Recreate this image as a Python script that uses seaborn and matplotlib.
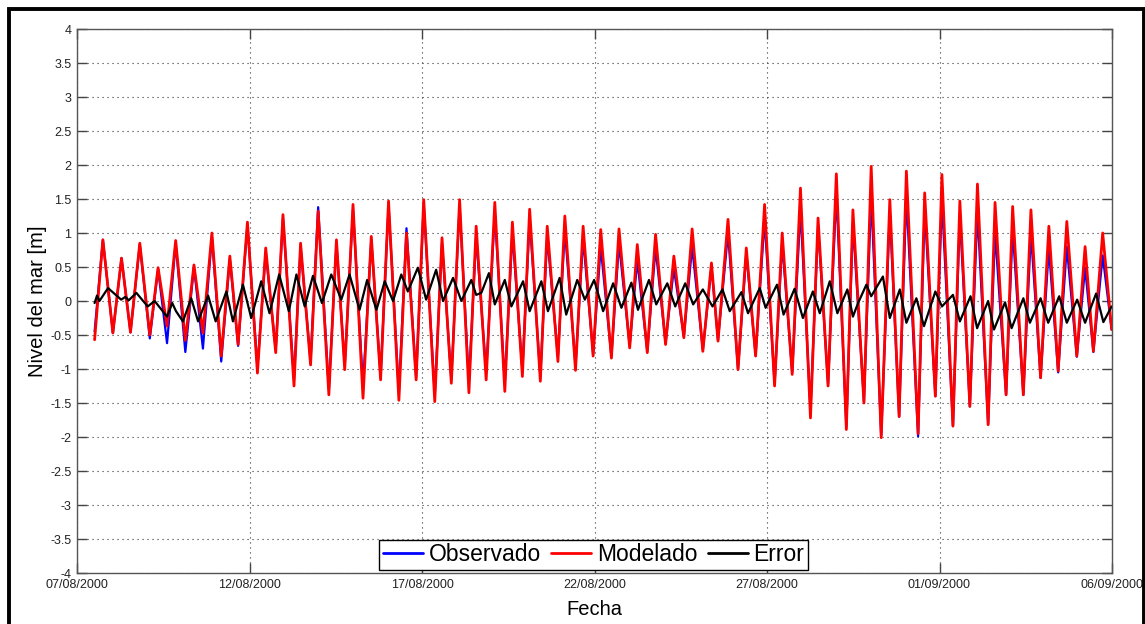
import matplotlib
matplotlib.use("Agg")
import matplotlib.pyplot as plt
import seaborn as sns
import pandas as pd
from matplotlib.lines import Line2D
from matplotlib.patches import Rectangle

# ---------------- data ----------------
# x positions in days after 07/08/2000 00:00
tick_days = [0, 5, 10, 15, 20, 25, 30]
tick_labels = ["07/08/2000", "12/08/2000", "17/08/2000", "22/08/2000",
               "27/08/2000", "01/09/2000", "06/09/2000"]
y_ticks = [-4, -3.5, -3, -2.5, -2, -1.5, -1, -0.5, 0, 0.5, 1, 1.5, 2, 2.5, 3, 3.5, 4]
y_tick_labels = ["-4", "-3.5", "-3", "-2.5", "-2", "-1.5", "-1", "-0.5", "0",
                 "0.5", "1", "1.5", "2", "2.5", "3", "3.5", "4"]
series_names = ["Observado", "Modelado", "Error"]

# high / low water times (days) for the tide curves
tide_days = [0.51, 0.75, 1.04, 1.29, 1.55, 1.82, 2.11, 2.35, 2.61, 2.86, 3.14, 3.39, 3.65, 3.91,
             4.18, 4.43, 4.67, 4.94, 5.23, 5.47, 5.76, 5.97, 6.29, 6.48, 6.77, 6.99, 7.30, 7.52,
             7.76, 8.00, 8.29, 8.53, 8.80, 9.03, 9.33, 9.55, 9.83, 10.05, 10.37, 10.58, 10.85, 11.09,
             11.36, 11.57, 11.86, 12.11, 12.40, 12.62, 12.91, 13.12, 13.43, 13.63, 13.94, 14.14, 14.45, 14.67,
             14.96, 15.18, 15.49, 15.71, 16.02, 16.24, 16.53, 16.77, 17.06, 17.30, 17.59, 17.83, 18.14, 18.39,
             18.58, 18.87, 19.16, 19.40, 19.67, 19.93, 20.22, 20.44, 20.73, 20.97, 21.26, 21.48, 21.77, 22.01,
             22.30, 22.49, 22.81, 23.02, 23.31, 23.56, 23.83, 24.04, 24.38, 24.57, 24.88, 25.07, 25.39, 25.59,
             25.88, 26.10, 26.41, 26.61, 26.93, 27.12, 27.43, 27.65, 27.93, 28.17, 28.44, 28.69, 28.98, 29.22,
             29.46, 29.73, 29.99]

modelado = [-0.57, 0.90, -0.47, 0.63, -0.46, 0.85, -0.50, 0.49, -0.37, 0.89, -0.58, 0.53, -0.47, 1.00,
            -0.81, 0.66, -0.64, 1.16, -1.06, 0.78, -0.76, 1.27, -1.25, 0.85, -0.94, 1.32, -1.38, 0.90,
            -1.01, 1.42, -1.43, 0.95, -1.16, 1.47, -1.46, 1.00, -1.16, 1.49, -1.48, 0.93, -1.21, 1.49,
            -1.35, 1.10, -1.16, 1.45, -1.33, 1.16, -1.11, 1.35, -1.18, 1.10, -0.89, 1.25, -1.02, 1.10,
            -0.81, 1.05, -0.84, 1.06, -0.69, 0.83, -0.76, 0.98, -0.64, 0.66, -0.54, 1.06, -0.74, 0.56,
            -0.59, 1.20, -1.01, 0.78, -0.81, 1.42, -1.25, 1.00, -1.08, 1.66, -1.72, 1.22, -1.25, 1.87,
            -1.89, 1.34, -1.50, 1.98, -2.01, 1.49, -1.70, 1.91, -1.95, 1.59, -1.40, 1.86, -1.84, 1.47,
            -1.55, 1.72, -1.82, 1.45, -1.38, 1.39, -1.38, 1.34, -1.13, 1.10, -1.03, 1.17, -0.81, 0.80,
            -0.74, 1.00, -0.42]

observado = [-0.45, 0.90, -0.47, 0.63, -0.46, 0.83, -0.55, 0.47, -0.62, 0.85, -0.75, 0.50, -0.70, 0.95,
             -0.89, 0.62, -0.66, 1.12, -0.98, 0.72, -0.72, 1.22, -1.15, 0.80, -0.88, 1.38, -1.30, 0.85,
             -0.95, 1.35, -1.25, 0.90, -1.10, 1.40, -1.35, 1.07, -1.12, 1.42, -1.38, 0.85, -1.15, 1.40,
             -1.20, 0.95, -1.05, 1.30, -1.20, 1.00, -1.02, 1.20, -1.10, 0.95, -0.82, 1.05, -0.95, 0.92,
             -0.78, 0.80, -0.82, 0.85, -0.66, 0.60, -0.74, 0.78, -0.62, 0.48, -0.52, 0.80, -0.72, 0.50,
             -0.57, 1.00, -1.00, 0.70, -0.80, 1.20, -1.22, 0.85, -1.05, 1.35, -1.60, 1.10, -1.22, 1.60,
             -1.85, 1.15, -1.48, 1.55, -1.98, 1.30, -1.70, 1.55, -1.99, 1.35, -1.40, 1.50, -1.84, 1.25,
             -1.55, 1.32, -1.80, 1.02, -1.38, 1.07, -1.38, 1.00, -1.13, 0.78, -1.05, 0.80, -0.82, 0.49,
             -0.75, 0.67, -0.42]

error_days = [0.51, 0.58, 0.65, 0.90, 1.28, 1.40, 1.50, 1.72, 2.05, 2.25, 2.61, 2.76, 2.87, 3.07,
              3.31, 3.51, 3.80, 4.02, 4.33, 4.52, 4.81, 5.05, 5.34, 5.58, 5.86, 6.14, 6.36, 6.60,
              6.84, 7.10, 7.37, 7.66, 7.90, 8.19, 8.41, 8.68, 8.92, 9.16, 9.40, 9.59, 9.88, 10.12,
              10.41, 10.61, 10.90, 11.14, 11.43, 11.57, 11.72, 11.94, 12.11, 12.40, 12.59, 12.93, 13.12,
              13.46, 13.65, 13.99, 14.18, 14.50, 14.72, 14.99, 15.25, 15.54, 15.78, 16.07, 16.26, 16.58,
              16.79, 17.11, 17.34, 17.63, 17.86, 18.14, 18.42, 18.71, 18.92, 19.26, 19.45, 19.79, 19.96,
              20.29, 20.48, 20.80, 21.04, 21.33, 21.53, 21.82, 22.04, 22.33, 22.49, 22.64, 22.88, 23.02,
              23.36, 23.56, 23.85, 24.04, 24.33, 24.55, 24.88, 25.07, 25.39, 25.59, 25.90, 26.09, 26.41,
              26.58, 26.90, 27.09, 27.43, 27.62, 27.93, 28.15, 28.47, 28.69, 28.99, 29.22, 29.54, 29.75,
              29.99]
error_vals = [-0.03, 0.08, 0.00, 0.19, 0.02, 0.06, 0.01, 0.12, -0.08, 0.00, -0.23, -0.03, -0.15, -0.30,
              0.04, -0.30, 0.08, -0.30, 0.14, -0.30, 0.24, -0.25, 0.29, -0.18, 0.39, -0.15, 0.39, -0.08,
              0.37, -0.03, 0.39, 0.02, 0.39, -0.13, 0.31, -0.13, 0.29, 0.00, 0.39, 0.14, 0.49, 0.02,
              0.46, 0.00, 0.34, 0.00, 0.31, 0.09, 0.12, 0.41, -0.05, 0.31, -0.08, 0.29, -0.15,
              0.29, -0.15, 0.34, -0.20, 0.31, 0.02, 0.31, -0.15, 0.26, -0.10, 0.27, -0.13, 0.31,
              -0.05, 0.26, -0.08, 0.26, -0.05, 0.17, -0.08, 0.17, -0.15, 0.13, -0.18, 0.19, -0.10,
              0.24, -0.20, 0.18, -0.25, 0.14, -0.18, 0.29, -0.18, 0.17, -0.23, -0.03, 0.24, 0.07,
              0.36, -0.25, 0.17, -0.32, 0.04, -0.37, 0.14, -0.08, 0.09, -0.30, 0.07, -0.40, 0.00,
              -0.42, -0.02, -0.40, 0.04, -0.32, 0.04, -0.32, 0.07, -0.32, 0.02, -0.32, 0.11, -0.31,
              -0.08]

# ---------------- style ----------------
sns.set_theme(style="white")
plt.rcParams["font.family"] = ["Liberation Sans", "DejaVu Sans"]
plt.rcParams["text.color"] = "black"
plt.rcParams["axes.labelcolor"] = "black"

colors = {"Observado": "#0000FF", "Modelado": "#FF0000", "Error": "#000000"}

fig = plt.figure(figsize=(11.45, 6.24), dpi=100)
ax = fig.add_axes([77 / 1145, 1 - 573 / 624, (1112 - 77) / 1145, (573 - 29) / 624])

sns.lineplot(x=tide_days, y=observado, ax=ax, color=colors["Observado"], linewidth=1.6,
             estimator=None, sort=False)
sns.lineplot(x=tide_days, y=modelado, ax=ax, color=colors["Modelado"], linewidth=2.0,
             estimator=None, sort=False)
sns.lineplot(x=error_days, y=error_vals, ax=ax, color=colors["Error"], linewidth=1.6,
             estimator=None, sort=False)

ax.set_xlim(0, 30)
ax.set_ylim(-4, 4)
ax.set_xticks(tick_days)
ax.set_xticklabels(tick_labels, fontsize=9, color="#222222")
ax.set_yticks(y_ticks)
ax.set_yticklabels(y_tick_labels, fontsize=9, color="#222222")
ax.tick_params(direction="in", length=7, width=1, color="#444444",
               top=True, right=True, bottom=True, left=True, pad=4)
ax.grid(True, linestyle=(0, (1, 3.5)), color="#333333", linewidth=0.8)
for s in ax.spines.values():
    s.set_color("#555555")
    s.set_linewidth(1.0)
    s.set_visible(True)

ax.set_xlabel("Fecha", fontsize=14.5, labelpad=7, color="black")
ax.set_ylabel("Nivel del mar [m]", fontsize=14.5, labelpad=2, color="black")

handles = [Line2D([], [], color=colors[n], linewidth=2) for n in series_names]
leg = ax.legend(handles, series_names, loc="lower center", bbox_to_anchor=(0.499, 0.006),
                ncol=3, fontsize=16.5, frameon=True, fancybox=False, framealpha=1,
                handlelength=1.75, handletextpad=0.25, columnspacing=0.45,
                borderpad=0.15, borderaxespad=0.0, labelcolor="black")
leg.get_frame().set_edgecolor("#000000")
leg.get_frame().set_linewidth(1.0)

# outer thick frame of the figure
fig.patches.append(Rectangle((8.5 / 1145, -0.05), (1143.5 - 8.5) / 1145, 1.05 - 8.5 / 624,
                             transform=fig.transFigure, fill=False, edgecolor="black",
                             linewidth=2.8, zorder=10))

fig.savefig("out.png", dpi=100)
